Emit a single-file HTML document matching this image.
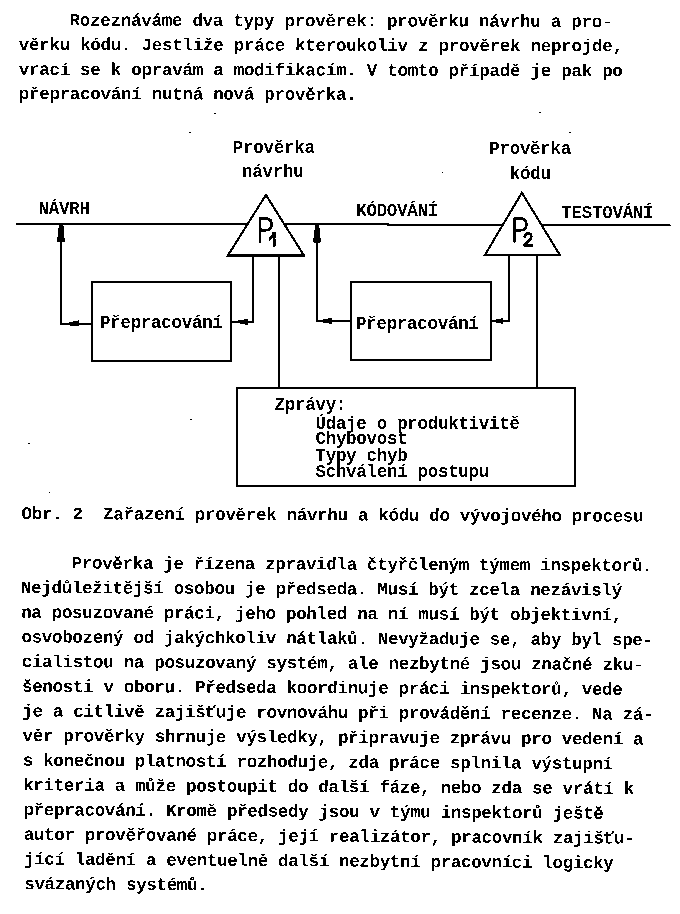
<!DOCTYPE html>
<html><head><meta charset="utf-8">
<style>
html,body{margin:0;padding:0;background:#fff;}
svg{display:block;filter:grayscale(1);}
.t{font-family:"Liberation Mono",monospace;font-weight:bold;fill:#000;}
.c{font-family:"Liberation Mono",monospace;font-weight:bold;fill:#000;}
.s{font-family:"Liberation Sans",sans-serif;fill:#000;}
</style></head><body>
<svg width="680" height="914" viewBox="0 0 680 914">
<defs><filter id="bin" x="0" y="0" width="680" height="914" filterUnits="userSpaceOnUse" color-interpolation-filters="sRGB"><feComponentTransfer><feFuncR type="discrete" tableValues="0 1"/><feFuncG type="discrete" tableValues="0 1"/><feFuncB type="discrete" tableValues="0 1"/></feComponentTransfer></filter></defs>
<g filter="url(#bin)">
<rect width="680" height="914" fill="#fff"/>
<text class="t" transform="matrix(0.999997 0.002500 -0.002500 0.999997 69.50 25.60)" style="font-size:17.5px;letter-spacing:-0.262px">Rozeznáváme dva typy prověrek: prověrku návrhu a pro-</text>
<text class="t" transform="matrix(0.999997 0.002500 -0.002500 0.999997 18.70 49.90)" style="font-size:17.5px;letter-spacing:-0.264px">věrku kódu. Jestliže práce kteroukoliv z prověrek neprojde,</text>
<text class="t" transform="matrix(0.999997 0.002500 -0.002500 0.999997 18.70 74.80)" style="font-size:17.5px;letter-spacing:-0.266px">vrací se k opravám a modifikacím. V tomto případě je pak po</text>
<text class="t" transform="matrix(0.999997 0.002500 -0.002500 0.999997 18.70 99.00)" style="font-size:17.5px;letter-spacing:-0.268px">přepracování nutná nová prověrka.</text>
<text class="t" transform="matrix(1.000000 0.000000 -0.000000 1.000000 232.80 152.70)" style="font-size:17.5px;letter-spacing:-0.272px">Prověrka</text>
<text class="t" transform="matrix(1.000000 0.000000 -0.000000 1.000000 242.00 177.40)" style="font-size:17.5px;letter-spacing:-0.274px">návrhu</text>
<text class="t" transform="matrix(1.000000 0.000000 -0.000000 1.000000 489.20 154.00)" style="font-size:17.5px;letter-spacing:-0.272px">Prověrka</text>
<text class="t" transform="matrix(1.000000 0.000000 -0.000000 1.000000 509.80 178.70)" style="font-size:17.5px;letter-spacing:-0.274px">kódu</text>
<text class="t" transform="matrix(1.000000 0.000000 -0.000000 1.000000 38.60 214.40)" style="font-size:17.5px;letter-spacing:-0.277px">NÁVRH</text>
<text class="t" transform="matrix(1.000000 0.000000 -0.000000 1.000000 356.20 216.20)" style="font-size:17.5px;letter-spacing:-0.277px">KÓDOVÁNÍ</text>
<text class="t" transform="matrix(1.000000 0.000000 -0.000000 1.000000 561.30 218.10)" style="font-size:17.5px;letter-spacing:-0.277px">TESTOVÁNÍ</text>
<text class="t" transform="matrix(1.000000 0.000000 -0.000000 1.000000 100.00 328.00)" style="font-size:17.5px;letter-spacing:-0.286px">Přepracování</text>
<text class="t" transform="matrix(1.000000 0.000000 -0.000000 1.000000 356.00 329.30)" style="font-size:17.5px;letter-spacing:-0.286px">Přepracování</text>
<text class="t" transform="matrix(1.000000 0.000000 -0.000000 1.000000 274.60 410.40)" style="font-size:17.5px;letter-spacing:-0.293px">Zprávy:</text>
<text class="t" transform="matrix(1.000000 0.000000 -0.000000 1.000000 315.50 428.50)" style="font-size:17.5px;letter-spacing:-0.294px">Údaje o produktivitě</text>
<text class="t" transform="matrix(1.000000 0.000000 -0.000000 1.000000 315.50 443.90)" style="font-size:17.5px;letter-spacing:-0.296px">Chybovost</text>
<text class="t" transform="matrix(1.000000 0.000000 -0.000000 1.000000 315.50 460.90)" style="font-size:17.5px;letter-spacing:-0.297px">Typy chyb</text>
<text class="t" transform="matrix(1.000000 0.000000 -0.000000 1.000000 315.50 477.40)" style="font-size:17.5px;letter-spacing:-0.298px">Schválení postupu</text>
<text class="c" transform="matrix(0.999991 0.004200 -0.004200 0.999991 21.60 519.00)" style="font-size:17.5px;letter-spacing:-0.302px">Obr. 2 &#160;Zařazení prověrek návrhu a kódu do vývojového procesu</text>
<text class="t" transform="matrix(0.999991 0.004200 -0.004200 0.999991 71.59 568.50)" style="font-size:17.5px;letter-spacing:-0.305px">Prověrka je řízena zpravidla čtyřčleným týmem inspektorů.</text>
<text class="t" transform="matrix(0.999990 0.004400 -0.004400 0.999990 20.90 592.98)" style="font-size:17.5px;letter-spacing:-0.307px">Nejdůležitější osobou je předseda. Musí být zcela nezávislý</text>
<text class="t" transform="matrix(0.999989 0.004600 -0.004600 0.999989 21.18 617.66)" style="font-size:17.5px;letter-spacing:-0.309px">na posuzované práci, jeho pohled na ní musí být objektivní,</text>
<text class="t" transform="matrix(0.999988 0.004800 -0.004800 0.999988 21.46 642.34)" style="font-size:17.5px;letter-spacing:-0.311px">osvobozený od jakýchkoliv nátlaků. Nevyžaduje se, aby byl spe-</text>
<text class="t" transform="matrix(0.999988 0.005000 -0.005000 0.999988 21.74 667.02)" style="font-size:17.5px;letter-spacing:-0.313px">cialistou na posuzovaný systém, ale nezbytné jsou značné zku-</text>
<text class="t" transform="matrix(0.999986 0.005200 -0.005200 0.999986 22.02 691.70)" style="font-size:17.5px;letter-spacing:-0.315px">šenosti v oboru. Předseda koordinuje práci inspektorů, vede</text>
<text class="t" transform="matrix(0.999985 0.005400 -0.005400 0.999985 22.30 716.38)" style="font-size:17.5px;letter-spacing:-0.317px">je a citlivě zajišťuje rovnováhu při provádění recenze. Na zá-</text>
<text class="t" transform="matrix(0.999984 0.005600 -0.005600 0.999984 22.58 741.06)" style="font-size:17.5px;letter-spacing:-0.319px">věr prověrky shrnuje výsledky, připravuje zprávu pro vedení a</text>
<text class="t" transform="matrix(0.999983 0.005800 -0.005800 0.999983 22.86 765.74)" style="font-size:17.5px;letter-spacing:-0.321px">s konečnou platností rozhoduje, zda práce splnila výstupní</text>
<text class="t" transform="matrix(0.999982 0.006000 -0.006000 0.999982 23.14 790.42)" style="font-size:17.5px;letter-spacing:-0.323px">kriteria a může postoupit do další fáze, nebo zda se vrátí k</text>
<text class="t" transform="matrix(0.999981 0.006200 -0.006200 0.999981 23.42 815.10)" style="font-size:17.5px;letter-spacing:-0.325px">přepracování. Kromě předsedy jsou v týmu inspektorů ještě</text>
<text class="t" transform="matrix(0.999980 0.006400 -0.006400 0.999980 23.70 839.78)" style="font-size:17.5px;letter-spacing:-0.327px">autor prověřované práce, její realizátor, pracovník zajišťu-</text>
<text class="t" transform="matrix(0.999978 0.006600 -0.006600 0.999978 23.98 864.46)" style="font-size:17.5px;letter-spacing:-0.329px">jící ladění a eventuelně další nezbytní pracovníci logicky</text>
<text class="t" transform="matrix(0.999977 0.006800 -0.006800 0.999977 24.26 889.14)" style="font-size:17.5px;letter-spacing:-0.331px">svázaných systémů.</text>
<g stroke="#000" stroke-width="2" fill="none">
<polyline points="16,224 327,224.3 671,225.4"/>
<rect x="92" y="282" width="139" height="79"/>
<rect x="351" y="282" width="140" height="78"/>
<rect x="237" y="388" width="338" height="98"/>
<polyline points="61,224.5 61,324 92,324"/>
<polyline points="231,322 253,322 253,255.6"/>
<line x1="279" y1="255.6" x2="279" y2="388"/>
<polyline points="317,224.8 317,321 351,321"/>
<polyline points="491,321 509,321 509,255"/>
<line x1="537" y1="255" x2="537" y2="388"/>
</g>
<g stroke="#000" stroke-width="2.1" fill="#fff" stroke-linejoin="miter">
<polygon points="265.9,194.9 304,255.6 227.8,255.6"/>
<polygon points="521.9,192.8 559.8,255 484.9,255"/>
</g>
<g fill="#000">
<polygon points="58.8,225 63.4,225 64.8,242 57,242"/>
<polygon points="315,225.5 319.2,225.5 321,242.6 313,242.6"/>
<polygon points="68,322.8 68,325.2 79,326.6 79,320.2"/>
<polygon points="238,320.6 238,323 248,325 248,318.8"/>
<polygon points="322,319.8 322,322.2 332,324 332,317.8"/>
<polygon points="495,319.8 495,322.2 503.5,324 503.5,318"/>
</g>
<g stroke="#000" fill="none" stroke-width="2.7" stroke-linejoin="round">
<path d="M260,242.6 V218.6 H266.5 Q271.5,218.6 271.5,224.3 Q271.5,230.1 266.5,230.1 H260"/>
<path d="M514.6,242.6 V218.6 H521.5 Q526.4,218.6 526.4,224.3 Q526.4,230.1 521.5,230.1 H514.6"/>
<path d="M269,240 L274.2,234.3 M274.2,233 V246.5 M272.4,233.2 H276" stroke-width="2.6"/>
<path d="M524.5,237.5 Q525,233.4 528.2,233.4 Q531.5,233.4 531.2,237 Q530.8,239.5 524.5,245.3 H533" stroke-width="2.7"/>
</g>
<g fill="#000"><circle cx="215" cy="113.5" r="0.8"/><circle cx="190" cy="132.5" r="0.8"/><circle cx="330" cy="175" r="0.8"/><circle cx="540" cy="112.5" r="0.8"/><circle cx="365" cy="130" r="0.8"/><circle cx="570" cy="132.5" r="0.8"/><circle cx="442.5" cy="172.5" r="0.8"/><circle cx="640" cy="184" r="0.8"/><circle cx="29" cy="443.7" r="0.8"/><circle cx="49.4" cy="492.4" r="0.8"/><rect x="189.6" y="418.6" width="2.2" height="1.3"/></g>
</g>
</svg>
</body></html>
